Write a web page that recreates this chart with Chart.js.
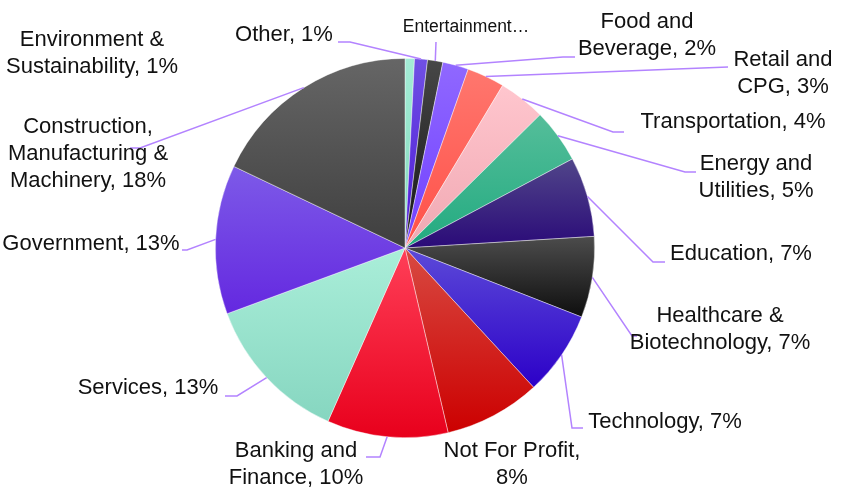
<!DOCTYPE html>
<html>
<head>
<meta charset="utf-8">
<script src="https://cdn.jsdelivr.net/npm/chart.js@4/dist/chart.umd.min.js"></script>
<style>
  html, body { margin: 0; padding: 0; background: #fff; }
  #wrap { width: 846px; height: 498px; }
</style>
</head>
<body>
<div id="wrap"><canvas id="pieChart"></canvas></div>
<script>
// sectors, clockwise from 12 o'clock
const sectors = [
    'Environment & Sustainability', 'Other', 'Entertainment', 'Food and Beverage',
    'Retail and CPG', 'Transportation', 'Energy and Utilities', 'Education',
    'Healthcare & Biotechnology', 'Technology', 'Not For Profit', 'Banking and Finance',
    'Services', 'Government', 'Construction, Manufacturing & Machinery'
];
const shares = [0.8, 1.1, 1.3, 2.2, 3.2, 4.0, 4.6, 6.8, 6.9, 7.2, 8.2, 10.3, 12.7, 12.7, 17.9];

// gradient colours per slice (light top -> base bottom)
const topColors = ['#a4ecd6', '#7050e4', '#474747', '#9068ff', '#ff776e', '#ffc6ce', '#55be9a', '#51468a',
    '#4c4c4c', '#5c4ad8', '#d84a42', '#ff3f58', '#aaeed9', '#7d5ae8', '#666666'];
const baseColors = ['#82d9bb', '#4c18d8', '#151515', '#7040ff', '#ff5048', '#f0a8b2', '#22aa80', '#2a0a78',
    '#0e0e0e', '#2c00c8', '#cc0000', '#e8001c', '#86d6c0', '#6428e0', '#3f3f3f'];

// label placement (text centre / first line middle, wrap width, leader path)
const labelLayout = [
    { x: 92, y: 40, maxW: 190, path: null },
    { x: 284, y: 35, maxW: 300, path: [[350, 42], [338, 42]] },
    { x: 466, y: 27, maxW: 300, small: true, path: [[436, 42]] },
    { x: 647, y: 22, maxW: 145, path: [[563, 57], [575, 57]] },
    { x: 783, y: 60, maxW: 110, path: [[728, 67]] },
    { x: 733, y: 122, maxW: 300, path: [[613, 132], [624, 132]] },
    { x: 756, y: 164, maxW: 125, path: [[685, 172], [696, 172]] },
    { x: 741, y: 254, maxW: 300, path: [[653, 262], [665, 262]] },
    { x: 720, y: 316, maxW: 190, path: [[632, 336], [637, 336]] },
    { x: 665, y: 422, maxW: 300, path: [[572, 428], [583, 428]] },
    { x: 512, y: 451, maxW: 145, path: null },
    { x: 296, y: 451, maxW: 140, path: [[380, 457], [366, 457]] },
    { x: 148, y: 388, maxW: 300, path: [[237, 396], [225, 396]] },
    { x: 91, y: 244, maxW: 300, path: [[187, 250], [182, 250]] },
    { x: 88, y: 127, maxW: 175, path: [[140, 148], [130, 148]] }
];

const FONT = '"Liberation Sans", Arial, sans-serif';

function sliceGradient(c) {
    const chart = c.chart;
    const area = chart.chartArea;
    const i = c.dataIndex;
    if (!area) return baseColors[i];
    const cx = (area.left + area.right) / 2, cy = (area.top + area.bottom) / 2;
    const r = Math.min(area.width, area.height) / 2;
    const total = shares.reduce((a, b) => a + b, 0);
    let before = 0;
    for (let k = 0; k < i; k++) before += shares[k];
    const a0 = -Math.PI / 2 + before / total * Math.PI * 2;
    const a1 = a0 + shares[i] / total * Math.PI * 2;
    let minY = cy, maxY = cy;
    for (let s = 0; s <= 40; s++) {
        const a = a0 + (a1 - a0) * s / 40;
        const y = cy + Math.sin(a) * r;
        minY = Math.min(minY, y); maxY = Math.max(maxY, y);
    }
    const g = chart.ctx.createLinearGradient(0, minY, 0, maxY + 0.01);
    g.addColorStop(0, topColors[i]);
    g.addColorStop(1, baseColors[i]);
    return g;
}

function wrapText(ctx, text, maxW) {
    const words = text.split(' ');
    const lines = [];
    let cur = '';
    words.forEach(w => {
        const test = cur ? cur + ' ' + w : w;
        if (cur && ctx.measureText(test).width > maxW) {
            lines.push(cur);
            cur = w;
        } else {
            cur = test;
        }
    });
    if (cur) lines.push(cur);
    return lines;
}

const labelPlugin = {
    id: 'sliceLabels',
    afterDatasetsDraw(chart) {
        const ctx = chart.ctx;
        const arcs = chart.getDatasetMeta(0).data;
        ctx.save();
        // leader lines
        ctx.strokeStyle = '#b383ff';
        ctx.lineWidth = 1.5;
        arcs.forEach((arc, i) => {
            const lay = labelLayout[i];
            if (!lay.path) return;
            const p = arc.getProps(['x', 'y', 'startAngle', 'endAngle', 'outerRadius'], true);
            const mid = (p.startAngle + p.endAngle) / 2;
            ctx.beginPath();
            ctx.moveTo(p.x + Math.cos(mid) * p.outerRadius, p.y + Math.sin(mid) * p.outerRadius);
            lay.path.forEach(pt => ctx.lineTo(pt[0], pt[1]));
            ctx.stroke();
        });
        // texts
        ctx.fillStyle = '#111';
        ctx.textAlign = 'center';
        ctx.textBaseline = 'middle';
        sectors.forEach((name, i) => {
            const lay = labelLayout[i];
            let lines;
            if (lay.small) {
                ctx.font = '17.5px ' + FONT;
                lines = [name + '\u2026'];
            } else {
                ctx.font = '22px ' + FONT;
                lines = wrapText(ctx, name + ', ' + Math.round(shares[i]) + '%', lay.maxW);
            }
            lines.forEach((ln, j) => ctx.fillText(ln, lay.x, lay.y + j * 27));
        });
        ctx.restore();
    }
};

new Chart(document.getElementById('pieChart').getContext('2d'), {
    type: 'pie',
    data: {
        labels: sectors,
        datasets: [{
            data: shares,
            backgroundColor: sliceGradient,
            borderColor: 'rgba(255,255,255,0.55)',
            borderWidth: 0.75
        }]
    },
    options: {
        responsive: true,
        maintainAspectRatio: false,
        devicePixelRatio: 1,
        animation: false,
        layout: { padding: { top: 58, bottom: 60, left: 215, right: 251 } },
        plugins: {
            legend: { display: false },
            tooltip: { enabled: false }
        }
    },
    plugins: [labelPlugin]
});
</script>
</body>
</html>
